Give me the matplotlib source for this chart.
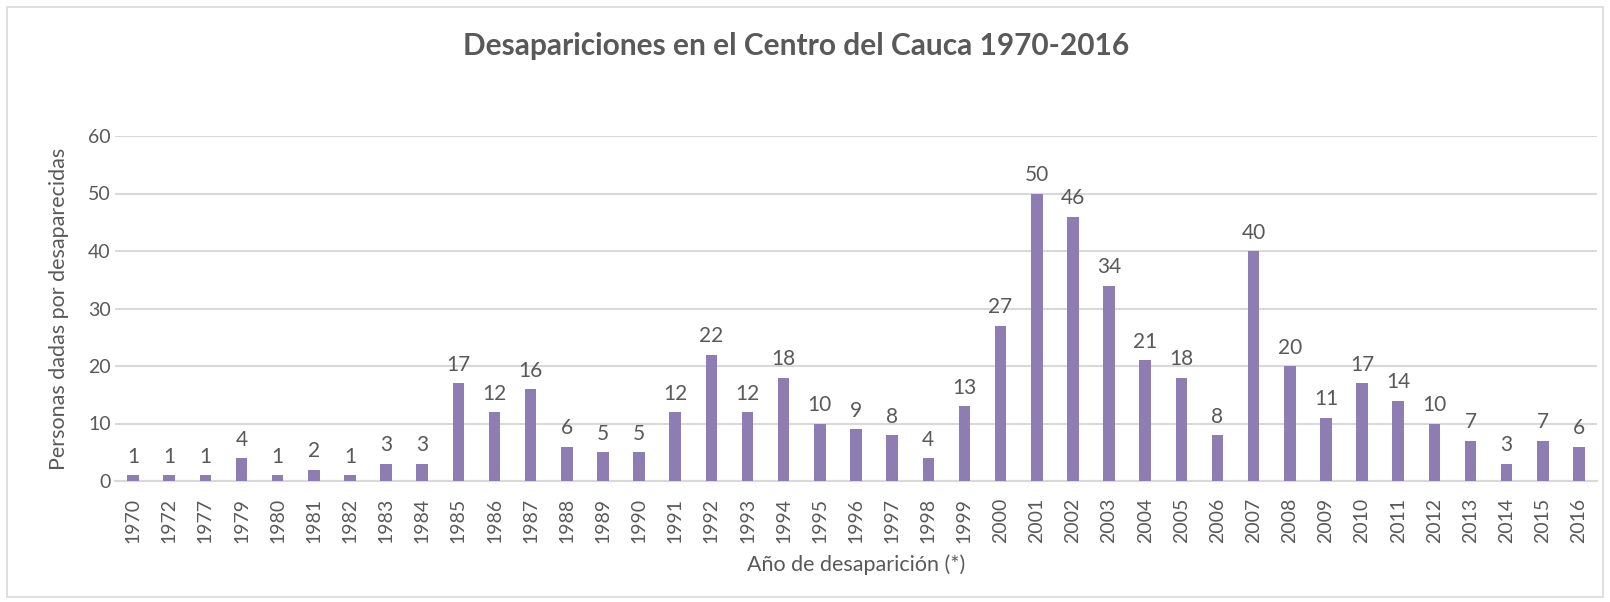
import matplotlib
matplotlib.use('Agg')
import matplotlib.pyplot as plt
from matplotlib.patches import Rectangle

plt.rcParams['font.family'] = ['Lato', 'DejaVu Sans']

# datos
anios = ['1970', '1972', '1977', '1979', '1980', '1981', '1982', '1983', '1984',
         '1985', '1986', '1987', '1988', '1989', '1990', '1991', '1992', '1993',
         '1994', '1995', '1996', '1997', '1998', '1999', '2000', '2001', '2002',
         '2003', '2004', '2005', '2006', '2007', '2008', '2009', '2010', '2011',
         '2012', '2013', '2014', '2015', '2016']
personas = [1, 1, 1, 4, 1, 2, 1, 3, 3,
            17, 12, 16, 6, 5, 5, 12, 22, 12,
            18, 10, 9, 8, 4, 13, 27, 50, 46,
            34, 21, 18, 8, 40, 20, 11, 17, 14,
            10, 7, 3, 7, 6]
yticks = [0, 10, 20, 30, 40, 50, 60]

gris = '#595959'
color_barra = '#8d7db2'

fig = plt.figure(figsize=(16.10, 6.02), dpi=100)
fig.patches.append(Rectangle((7 / 1610, 5 / 602), 1596 / 1610, 590 / 602,
                             transform=fig.transFigure, fill=False,
                             edgecolor='#d9d9d9', lw=1.2))

ax = fig.add_axes([115 / 1610, 1 - 481 / 602, 1482 / 1610, (481 - 136) / 602])
x = range(len(anios))
barras = ax.bar(x, personas, width=0.32, color=color_barra, zorder=3)
ax.bar_label(barras, padding=6, fontsize=15, color=gris)

ax.set_xlim(-0.5, len(anios) - 0.5)
ax.set_ylim(0, 60)
ax.set_yticks(yticks)
ax.set_xticks(list(x))
ax.set_xticklabels(anios, rotation=90)
ax.tick_params(axis='both', length=0, labelsize=14, colors=gris)
ax.tick_params(axis='y', pad=3)
ax.tick_params(axis='x', pad=12)
ax.grid(axis='y', color='#d9d9d9', lw=1.5, zorder=0)
for s in ['top', 'right', 'left']:
    ax.spines[s].set_visible(False)
ax.spines['bottom'].set_color('#d9d9d9')
ax.spines['bottom'].set_linewidth(1.5)

ax.set_ylabel('Personas dadas por desaparecidas', fontsize=15.5, color=gris, labelpad=14)
ax.set_xlabel('Año de desaparición (*)', fontsize=15.5, color=gris, labelpad=8)
fig.text(796 / 1610, 1 - 46 / 602, 'Desapariciones en el Centro del Cauca 1970-2016',
         ha='center', va='center', fontsize=21.5, fontweight='bold', color=gris)

fig.savefig('out.png', dpi=100)
